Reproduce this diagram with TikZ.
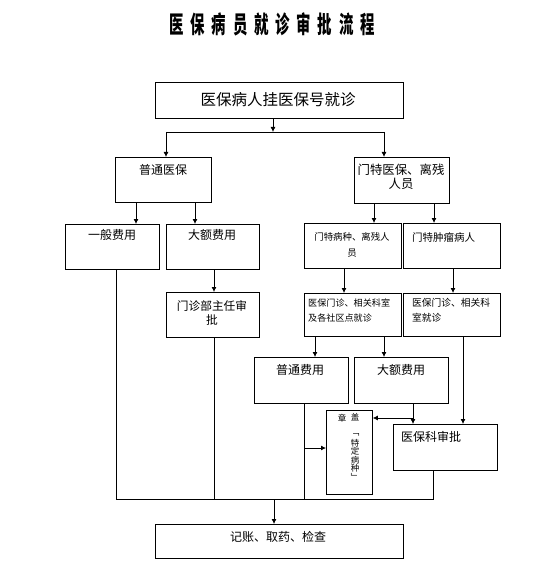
\documentclass[tikz,border=0pt]{standalone}
\usepackage{fontspec}
\usepackage{graphicx}
\newfontfamily\cjk{Noto Sans CJK SC}
\usetikzlibrary{arrows.meta}
\newcommand\fs[2]{\cjk\fontsize{#1}{#2}\selectfont}
\newcommand\tch[1]{\scalebox{0.6}[1]{#1}}
\newcommand\boxat[5]{\node[bx,minimum width=#4pt,minimum height=#5pt] (#1) at (#2,#3) {};}
\tikzset{
 bx/.style={draw=black, line width=0.8pt, inner sep=0pt, anchor=north west},
 tx/.style={inner sep=0pt, align=center, font=\fs{12}{14}},
 ar/.style={draw=black, line width=0.8pt, -{Latex[length=5pt,width=5pt]}},
 ln/.style={draw=black, line width=0.8pt},
}
\begin{document}
\begin{tikzpicture}[x=1pt,y=-1pt]
\useasboundingbox (0,0) rectangle (554,577);
\fill[white] (0,0) rectangle (554,577);
% title
\node[inner sep=0pt, font=\fs{24}{26}\bfseries] (title) at (272,24)
 {\tch{医}\hspace{6.8pt}\tch{保}\hspace{6.8pt}\tch{病}\hspace{6.8pt}\tch{员}\hspace{6.8pt}\tch{就}\hspace{6.8pt}\tch{诊}\hspace{6.8pt}\tch{审}\hspace{6.8pt}\tch{批}\hspace{6.8pt}\tch{流}\hspace{6.8pt}\tch{程}};
% boxes
\boxat{A}{155}{82}{248}{36}
\boxat{B}{115}{157}{96}{45}
\boxat{C}{354}{157}{95}{46}
\boxat{D}{65}{224}{94}{45}
\boxat{E}{166}{224}{93}{45}
\boxat{F}{166}{292}{93}{45}
\boxat{G}{304}{223}{97}{45}
\boxat{H}{403}{223}{97}{45}
\boxat{I}{304}{293}{97}{43}
\boxat{J}{403}{293}{97}{43}
\boxat{K}{254}{357}{94}{46}
\boxat{L}{354}{357}{94}{46}
\boxat{M}{326}{410}{46}{84}
\boxat{N}{393}{424}{104}{46}
\boxat{O}{155}{524}{248}{34}
% texts
\node[tx, font=\fs{15.5}{17}] (tA) at (278,100) {医保病人挂医保号就诊};
\node[tx] (tB) at (163,170) {普通医保};
\node[tx, font=\fs{12.4}{14}] (tC) at (401,177) {门特医保、离残\\人员};
\node[tx] (tD) at (112,235) {一般费用};
\node[tx] (tE) at (212,235) {大额费用};
\node[tx, font=\fs{11.7}{13.5}] (tF) at (212,313) {门诊部主任审\\批};
\node[tx, font=\fs{9.4}{16}] (tG) at (352,245) {门特病种、离残人\\员};
\node[tx, font=\fs{10.5}{12}, anchor=west] (tH) at (412,237) {门特肿瘤病人};
\node[tx, font=\fs{9.1}{15}, anchor=west, align=left] (tI) at (308,310.5) {医保门诊、相关科室\\及各社区点就诊};
\node[tx, font=\fs{9.75}{15}, anchor=west, align=left] (tJ) at (412,310.5) {医保门诊、相关科\\室就诊};
\node[tx] (tK) at (300,370) {普通费用};
\node[tx] (tL) at (401,370) {大额费用};
\node[tx, anchor=west] (tN) at (401,437) {医保科审批};
\node[tx] (tO) at (278,537) {记账、取药、检查};
\node[tx, font=\fs{8.5}{9}] (tM1) at (342,418) {章};
\node[tx, font=\fs{8.5}{8.3}, anchor=north] (tM2) at (355,413.5) {盖\\[6pt]﹁\\[3pt]特\\定\\病\\种\\[1pt]﹂};
% column coordinates
\coordinate (ja) at (273,132);
\coordinate (jl) at (166,132);
\coordinate (jr) at (384,132);
\foreach \n/\x in {c136/136,c195/195,c374/374,c434/434,c214/214,c344/344,c453/453,c315/315,c384/384,c463/463,c413/413}
  \coordinate (\n) at (\x,0);
% connectors
\draw[ar] (A.south -| ja) -- (ja);
\draw[ln] (jl) -- (jr);
\draw[ar] (jl) -- (B.north -| jl);
\draw[ar] (jr) -- (C.north -| jr);
\draw[ar] (B.south -| c136) -- (D.north -| c136);
\draw[ar] (B.south -| c195) -- (E.north -| c195);
\draw[ar] (C.south -| c374) -- (G.north -| c374);
\draw[ar] (C.south -| c434) -- (H.north -| c434);
\draw[ar] (E.south -| c214) -- (F.north -| c214);
\draw[ar] (G.south -| c344) -- (I.north -| c344);
\draw[ar] (H.south -| c453) -- (J.north -| c453);
\draw[ar] (I.south -| c315) -- (K.north -| c315);
\draw[ar] (I.south -| c384) -- (L.north -| c384);
\draw[ar] (J.south -| c463) -- (N.north -| c463);
\draw[ar] (L.south -| c413) -- (N.north -| c413);
\coordinate (jm) at (413,418);
\draw[ar] (jm) -- (M.east |- jm);
\coordinate (jk) at (304,448);
\coordinate (bl) at (116,499);
\coordinate (br) at (433,499);
\coordinate (bm) at (274,499);
\draw[ln] (K.south -| jk) -- (jk |- bl);
\draw[ar] (jk) -- (M.west |- jk);
\draw[ln] (D.south -| bl) -- (bl) -- (br) -- (N.south -| br);
\draw[ln] (F.south -| c214) -- (c214 |- bl);
\draw[ar] (bm) -- (O.north -| bm);
\end{tikzpicture}
\end{document}
